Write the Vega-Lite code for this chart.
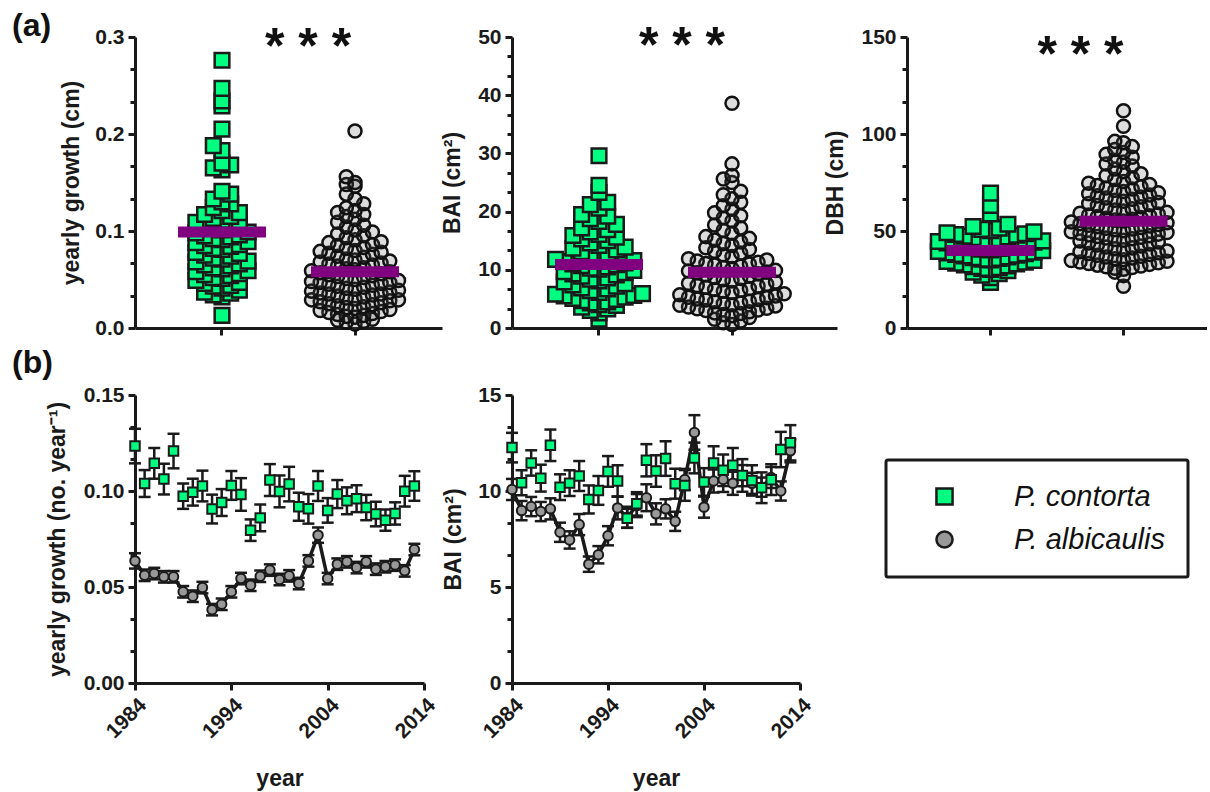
{
  "$schema": "https://vega.github.io/schema/vega-lite/v6.json",
  "background": "white",
  "padding": {"left": 12, "top": 10, "right": 0, "bottom": 5},
  "config": {
    "view": {"stroke": null},
    "font": "Liberation Sans",
    "axis": {"domainColor": "#1a1a1a", "domainWidth": 3, "tickColor": "#1a1a1a", "tickWidth": 3, "tickSize": 7, "labelFont": "Liberation Sans", "labelFontSize": 21, "labelFontWeight": "bold", "labelColor": "#1a1a1a", "labelPadding": 4, "labelOverlap": false, "titleFont": "Liberation Sans", "titleFontSize": 23, "titleFontWeight": "bold", "titleColor": "#1a1a1a", "grid": false},
    "legend": {"strokeWidth": 3}
  },
  "datasets": {
    "growth_contorta": [{"value":0.013},{"value":0.032},{"value":0.034},{"value":0.036},{"value":0.037},{"value":0.039},{"value":0.041},{"value":0.043},{"value":0.044},{"value":0.046},{"value":0.047},{"value":0.049},{"value":0.051},{"value":0.052},{"value":0.054},{"value":0.055},{"value":0.056},{"value":0.058},{"value":0.059},{"value":0.061},{"value":0.062},{"value":0.064},{"value":0.065},{"value":0.066},{"value":0.068},{"value":0.069},{"value":0.071},{"value":0.072},{"value":0.074},{"value":0.075},{"value":0.077},{"value":0.078},{"value":0.081},{"value":0.082},{"value":0.084},{"value":0.085},{"value":0.086},{"value":0.088},{"value":0.089},{"value":0.091},{"value":0.092},{"value":0.094},{"value":0.095},{"value":0.096},{"value":0.098},{"value":0.099},{"value":0.101},{"value":0.103},{"value":0.104},{"value":0.106},{"value":0.107},{"value":0.109},{"value":0.111},{"value":0.113},{"value":0.115},{"value":0.117},{"value":0.119},{"value":0.121},{"value":0.124},{"value":0.128},{"value":0.130},{"value":0.133},{"value":0.138},{"value":0.141},{"value":0.163},{"value":0.165},{"value":0.168},{"value":0.170},{"value":0.183},{"value":0.188},{"value":0.205},{"value":0.229},{"value":0.234},{"value":0.247},{"value":0.276}],
    "growth_albicaulis": [{"value":0.004},{"value":0.006},{"value":0.007},{"value":0.008},{"value":0.009},{"value":0.011},{"value":0.012},{"value":0.013},{"value":0.014},{"value":0.015},{"value":0.016},{"value":0.017},{"value":0.018},{"value":0.019},{"value":0.020},{"value":0.021},{"value":0.022},{"value":0.023},{"value":0.024},{"value":0.025},{"value":0.026},{"value":0.027},{"value":0.028},{"value":0.029},{"value":0.029},{"value":0.030},{"value":0.031},{"value":0.032},{"value":0.033},{"value":0.034},{"value":0.035},{"value":0.035},{"value":0.036},{"value":0.037},{"value":0.038},{"value":0.039},{"value":0.040},{"value":0.041},{"value":0.042},{"value":0.043},{"value":0.044},{"value":0.045},{"value":0.046},{"value":0.047},{"value":0.047},{"value":0.048},{"value":0.049},{"value":0.050},{"value":0.051},{"value":0.052},{"value":0.053},{"value":0.054},{"value":0.055},{"value":0.056},{"value":0.057},{"value":0.058},{"value":0.059},{"value":0.060},{"value":0.061},{"value":0.062},{"value":0.064},{"value":0.065},{"value":0.066},{"value":0.067},{"value":0.068},{"value":0.069},{"value":0.070},{"value":0.071},{"value":0.073},{"value":0.074},{"value":0.076},{"value":0.077},{"value":0.078},{"value":0.079},{"value":0.080},{"value":0.082},{"value":0.083},{"value":0.085},{"value":0.086},{"value":0.088},{"value":0.089},{"value":0.091},{"value":0.093},{"value":0.095},{"value":0.097},{"value":0.099},{"value":0.101},{"value":0.104},{"value":0.106},{"value":0.109},{"value":0.112},{"value":0.115},{"value":0.117},{"value":0.119},{"value":0.121},{"value":0.124},{"value":0.128},{"value":0.133},{"value":0.138},{"value":0.146},{"value":0.148},{"value":0.150},{"value":0.156},{"value":0.203}],
    "bai_contorta": [{"value":1.5},{"value":2.6},{"value":3.0},{"value":3.3},{"value":3.6},{"value":3.9},{"value":4.0},{"value":4.3},{"value":4.5},{"value":4.7},{"value":4.9},{"value":5.1},{"value":5.3},{"value":5.5},{"value":5.6},{"value":5.8},{"value":5.9},{"value":6.1},{"value":6.4},{"value":6.7},{"value":6.9},{"value":7.2},{"value":7.4},{"value":7.6},{"value":7.9},{"value":8.1},{"value":8.4},{"value":8.6},{"value":8.9},{"value":9.1},{"value":9.3},{"value":9.5},{"value":9.7},{"value":9.9},{"value":10.1},{"value":10.3},{"value":10.5},{"value":10.7},{"value":10.9},{"value":11.0},{"value":11.2},{"value":11.4},{"value":11.6},{"value":11.8},{"value":12.2},{"value":12.5},{"value":12.8},{"value":13.1},{"value":13.4},{"value":13.7},{"value":13.9},{"value":14.2},{"value":14.6},{"value":15.0},{"value":15.3},{"value":15.6},{"value":15.9},{"value":16.1},{"value":16.5},{"value":16.9},{"value":17.2},{"value":17.8},{"value":18.3},{"value":18.8},{"value":19.2},{"value":19.5},{"value":20.6},{"value":21.2},{"value":21.6},{"value":23.3},{"value":24.5},{"value":29.6}],
    "bai_albicaulis": [{"value":0.6},{"value":0.9},{"value":1.2},{"value":1.5},{"value":1.8},{"value":2.1},{"value":2.3},{"value":2.5},{"value":2.6},{"value":2.8},{"value":3.0},{"value":3.1},{"value":3.3},{"value":3.4},{"value":3.6},{"value":3.8},{"value":3.9},{"value":4.0},{"value":4.2},{"value":4.3},{"value":4.5},{"value":4.6},{"value":4.8},{"value":4.9},{"value":5.0},{"value":5.2},{"value":5.3},{"value":5.5},{"value":5.7},{"value":5.9},{"value":6.1},{"value":6.3},{"value":6.5},{"value":6.6},{"value":6.8},{"value":7.0},{"value":7.2},{"value":7.3},{"value":7.5},{"value":7.7},{"value":7.9},{"value":8.1},{"value":8.3},{"value":8.5},{"value":8.7},{"value":8.9},{"value":9.1},{"value":9.3},{"value":9.5},{"value":9.6},{"value":9.8},{"value":9.9},{"value":10.2},{"value":10.4},{"value":10.6},{"value":10.8},{"value":11.0},{"value":11.1},{"value":11.3},{"value":11.5},{"value":11.7},{"value":11.9},{"value":12.3},{"value":12.6},{"value":12.9},{"value":13.2},{"value":13.5},{"value":13.8},{"value":14.2},{"value":14.5},{"value":14.8},{"value":15.1},{"value":15.4},{"value":15.7},{"value":16.3},{"value":16.8},{"value":17.2},{"value":17.7},{"value":18.4},{"value":18.9},{"value":19.3},{"value":19.8},{"value":20.4},{"value":21.0},{"value":21.6},{"value":22.2},{"value":22.9},{"value":23.5},{"value":25.0},{"value":25.6},{"value":26.2},{"value":28.2},{"value":38.6}],
    "dbh_contorta": [{"value":23.5},{"value":26.0},{"value":27.2},{"value":28.0},{"value":28.8},{"value":29.5},{"value":30.2},{"value":30.7},{"value":31.1},{"value":31.6},{"value":32.0},{"value":32.5},{"value":33.0},{"value":33.4},{"value":33.9},{"value":34.3},{"value":34.8},{"value":35.1},{"value":35.5},{"value":35.9},{"value":36.3},{"value":36.7},{"value":37.1},{"value":37.5},{"value":37.9},{"value":38.3},{"value":38.7},{"value":39.1},{"value":39.5},{"value":39.9},{"value":40.2},{"value":40.6},{"value":41.0},{"value":41.4},{"value":41.8},{"value":42.2},{"value":42.6},{"value":43.0},{"value":43.4},{"value":43.8},{"value":44.2},{"value":44.6},{"value":44.9},{"value":45.2},{"value":45.6},{"value":46.0},{"value":46.5},{"value":47.0},{"value":47.4},{"value":47.8},{"value":48.2},{"value":48.6},{"value":49.1},{"value":49.6},{"value":50.2},{"value":50.8},{"value":51.5},{"value":52.3},{"value":53.5},{"value":58.8},{"value":63.2},{"value":69.5}],
    "dbh_albicaulis": [{"value":21.5},{"value":27.0},{"value":28.8},{"value":30.3},{"value":30.8},{"value":31.2},{"value":31.6},{"value":32.0},{"value":32.4},{"value":32.8},{"value":33.2},{"value":33.6},{"value":34.0},{"value":34.4},{"value":34.8},{"value":35.2},{"value":35.7},{"value":36.1},{"value":36.6},{"value":37.0},{"value":37.5},{"value":37.9},{"value":38.4},{"value":38.8},{"value":39.3},{"value":39.7},{"value":40.3},{"value":40.8},{"value":41.3},{"value":41.8},{"value":42.3},{"value":42.8},{"value":43.3},{"value":43.8},{"value":44.3},{"value":44.8},{"value":45.2},{"value":45.6},{"value":46.0},{"value":46.4},{"value":46.8},{"value":47.2},{"value":47.6},{"value":48.0},{"value":48.4},{"value":48.8},{"value":49.2},{"value":49.6},{"value":50.2},{"value":50.6},{"value":51.0},{"value":51.4},{"value":51.8},{"value":52.2},{"value":52.6},{"value":53.0},{"value":53.4},{"value":53.8},{"value":54.2},{"value":54.6},{"value":55.2},{"value":55.6},{"value":56.1},{"value":56.5},{"value":57.0},{"value":57.4},{"value":57.9},{"value":58.3},{"value":58.8},{"value":59.2},{"value":59.6},{"value":60.3},{"value":60.8},{"value":61.4},{"value":62.0},{"value":62.5},{"value":63.1},{"value":63.6},{"value":64.2},{"value":64.7},{"value":65.3},{"value":65.8},{"value":66.4},{"value":67.0},{"value":67.5},{"value":68.1},{"value":68.6},{"value":69.2},{"value":69.7},{"value":70.4},{"value":71.0},{"value":71.6},{"value":72.2},{"value":72.8},{"value":73.4},{"value":74.0},{"value":74.6},{"value":75.5},{"value":76.5},{"value":77.5},{"value":78.5},{"value":79.5},{"value":80.5},{"value":82.0},{"value":83.5},{"value":84.5},{"value":85.5},{"value":86.5},{"value":88.0},{"value":89.5},{"value":90.5},{"value":92.0},{"value":93.5},{"value":95.5},{"value":96.2},{"value":104.0},{"value":112.0}],
    "ts_growth": [
      {"year":1984,"sp":"P. albicaulis","mean":0.0636,"se":0.004},{"year":1985,"sp":"P. albicaulis","mean":0.0561,"se":0.003},{"year":1986,"sp":"P. albicaulis","mean":0.0570,"se":0.003},{"year":1987,"sp":"P. albicaulis","mean":0.0553,"se":0.003},{"year":1988,"sp":"P. albicaulis","mean":0.0553,"se":0.003},{"year":1989,"sp":"P. albicaulis","mean":0.0475,"se":0.003},{"year":1990,"sp":"P. albicaulis","mean":0.0452,"se":0.003},{"year":1991,"sp":"P. albicaulis","mean":0.0497,"se":0.003},{"year":1992,"sp":"P. albicaulis","mean":0.0382,"se":0.003},{"year":1993,"sp":"P. albicaulis","mean":0.0410,"se":0.003},{"year":1994,"sp":"P. albicaulis","mean":0.0475,"se":0.003},{"year":1995,"sp":"P. albicaulis","mean":0.0544,"se":0.003},{"year":1996,"sp":"P. albicaulis","mean":0.0509,"se":0.003},{"year":1997,"sp":"P. albicaulis","mean":0.0556,"se":0.003},{"year":1998,"sp":"P. albicaulis","mean":0.0588,"se":0.003},{"year":1999,"sp":"P. albicaulis","mean":0.0539,"se":0.003},{"year":2000,"sp":"P. albicaulis","mean":0.0558,"se":0.003},{"year":2001,"sp":"P. albicaulis","mean":0.0518,"se":0.003},{"year":2002,"sp":"P. albicaulis","mean":0.0636,"se":0.003},{"year":2003,"sp":"P. albicaulis","mean":0.0770,"se":0.004},{"year":2004,"sp":"P. albicaulis","mean":0.0544,"se":0.003},{"year":2005,"sp":"P. albicaulis","mean":0.0619,"se":0.003},{"year":2006,"sp":"P. albicaulis","mean":0.0631,"se":0.003},{"year":2007,"sp":"P. albicaulis","mean":0.0601,"se":0.003},{"year":2008,"sp":"P. albicaulis","mean":0.0631,"se":0.003},{"year":2009,"sp":"P. albicaulis","mean":0.0593,"se":0.003},{"year":2010,"sp":"P. albicaulis","mean":0.0605,"se":0.003},{"year":2011,"sp":"P. albicaulis","mean":0.0614,"se":0.003},{"year":2012,"sp":"P. albicaulis","mean":0.0584,"se":0.003},{"year":2013,"sp":"P. albicaulis","mean":0.0695,"se":0.003},
      {"year":1984,"sp":"P. contorta","mean":0.1234,"se":0.009},{"year":1985,"sp":"P. contorta","mean":0.1039,"se":0.007},{"year":1986,"sp":"P. contorta","mean":0.1144,"se":0.008},{"year":1987,"sp":"P. contorta","mean":0.1062,"se":0.008},{"year":1988,"sp":"P. contorta","mean":0.1208,"se":0.009},{"year":1989,"sp":"P. contorta","mean":0.0973,"se":0.0066},{"year":1990,"sp":"P. contorta","mean":0.0994,"se":0.007},{"year":1991,"sp":"P. contorta","mean":0.1026,"se":0.008},{"year":1992,"sp":"P. contorta","mean":0.0906,"se":0.0075},{"year":1993,"sp":"P. contorta","mean":0.0940,"se":0.007},{"year":1994,"sp":"P. contorta","mean":0.1029,"se":0.0075},{"year":1995,"sp":"P. contorta","mean":0.0982,"se":0.0085},{"year":1996,"sp":"P. contorta","mean":0.0796,"se":0.0056},{"year":1997,"sp":"P. contorta","mean":0.0860,"se":0.007},{"year":1998,"sp":"P. contorta","mean":0.1057,"se":0.0083},{"year":1999,"sp":"P. contorta","mean":0.0998,"se":0.0083},{"year":2000,"sp":"P. contorta","mean":0.1036,"se":0.009},{"year":2001,"sp":"P. contorta","mean":0.0918,"se":0.0073},{"year":2002,"sp":"P. contorta","mean":0.0907,"se":0.0077},{"year":2003,"sp":"P. contorta","mean":0.1026,"se":0.0078},{"year":2004,"sp":"P. contorta","mean":0.0899,"se":0.0064},{"year":2005,"sp":"P. contorta","mean":0.0984,"se":0.0073},{"year":2006,"sp":"P. contorta","mean":0.0949,"se":0.007},{"year":2007,"sp":"P. contorta","mean":0.0960,"se":0.007},{"year":2008,"sp":"P. contorta","mean":0.0914,"se":0.0066},{"year":2009,"sp":"P. contorta","mean":0.0880,"se":0.0064},{"year":2010,"sp":"P. contorta","mean":0.0848,"se":0.0055},{"year":2011,"sp":"P. contorta","mean":0.0883,"se":0.0058},{"year":2012,"sp":"P. contorta","mean":0.0999,"se":0.008},{"year":2013,"sp":"P. contorta","mean":0.1026,"se":0.0077}
    ],
    "ts_bai": [
      {"year":1984,"sp":"P. albicaulis","mean":10.08,"se":0.55},{"year":1985,"sp":"P. albicaulis","mean":8.98,"se":0.5},{"year":1986,"sp":"P. albicaulis","mean":9.19,"se":0.5},{"year":1987,"sp":"P. albicaulis","mean":8.93,"se":0.5},{"year":1988,"sp":"P. albicaulis","mean":9.07,"se":0.55},{"year":1989,"sp":"P. albicaulis","mean":7.85,"se":0.5},{"year":1990,"sp":"P. albicaulis","mean":7.45,"se":0.45},{"year":1991,"sp":"P. albicaulis","mean":8.25,"se":0.55},{"year":1992,"sp":"P. albicaulis","mean":6.19,"se":0.4},{"year":1993,"sp":"P. albicaulis","mean":6.68,"se":0.45},{"year":1994,"sp":"P. albicaulis","mean":7.67,"se":0.5},{"year":1995,"sp":"P. albicaulis","mean":9.12,"se":0.6},{"year":1996,"sp":"P. albicaulis","mean":8.63,"se":0.55},{"year":1997,"sp":"P. albicaulis","mean":9.24,"se":0.6},{"year":1998,"sp":"P. albicaulis","mean":9.65,"se":0.7},{"year":1999,"sp":"P. albicaulis","mean":8.81,"se":0.55},{"year":2000,"sp":"P. albicaulis","mean":9.07,"se":0.5},{"year":2001,"sp":"P. albicaulis","mean":8.42,"se":0.5},{"year":2002,"sp":"P. albicaulis","mean":10.6,"se":0.55},{"year":2003,"sp":"P. albicaulis","mean":13.05,"se":0.9},{"year":2004,"sp":"P. albicaulis","mean":9.16,"se":0.55},{"year":2005,"sp":"P. albicaulis","mean":10.52,"se":0.6},{"year":2006,"sp":"P. albicaulis","mean":10.6,"se":0.65},{"year":2007,"sp":"P. albicaulis","mean":10.4,"se":0.6},{"year":2008,"sp":"P. albicaulis","mean":10.8,"se":0.55},{"year":2009,"sp":"P. albicaulis","mean":10.4,"se":0.55},{"year":2010,"sp":"P. albicaulis","mean":10.2,"se":0.5},{"year":2011,"sp":"P. albicaulis","mean":10.7,"se":0.55},{"year":2012,"sp":"P. albicaulis","mean":10.0,"se":0.5},{"year":2013,"sp":"P. albicaulis","mean":12.09,"se":0.6},
      {"year":1984,"sp":"P. contorta","mean":12.26,"se":0.77},{"year":1985,"sp":"P. contorta","mean":10.43,"se":0.65},{"year":1986,"sp":"P. contorta","mean":11.46,"se":0.66},{"year":1987,"sp":"P. contorta","mean":10.67,"se":0.7},{"year":1988,"sp":"P. contorta","mean":12.38,"se":0.82},{"year":1989,"sp":"P. contorta","mean":10.2,"se":0.67},{"year":1990,"sp":"P. contorta","mean":10.41,"se":0.67},{"year":1991,"sp":"P. contorta","mean":10.78,"se":0.78},{"year":1992,"sp":"P. contorta","mean":9.56,"se":0.73},{"year":1993,"sp":"P. contorta","mean":10.03,"se":0.75},{"year":1994,"sp":"P. contorta","mean":11.02,"se":0.8},{"year":1995,"sp":"P. contorta","mean":10.52,"se":0.82},{"year":1996,"sp":"P. contorta","mean":8.58,"se":0.49},{"year":1997,"sp":"P. contorta","mean":9.33,"se":0.61},{"year":1998,"sp":"P. contorta","mean":11.6,"se":0.84},{"year":1999,"sp":"P. contorta","mean":11.04,"se":0.82},{"year":2000,"sp":"P. contorta","mean":11.69,"se":0.9},{"year":2001,"sp":"P. contorta","mean":10.38,"se":0.78},{"year":2002,"sp":"P. contorta","mean":10.29,"se":0.8},{"year":2003,"sp":"P. contorta","mean":11.72,"se":0.8},{"year":2004,"sp":"P. contorta","mean":10.47,"se":0.72},{"year":2005,"sp":"P. contorta","mean":11.46,"se":0.87},{"year":2006,"sp":"P. contorta","mean":11.08,"se":0.82},{"year":2007,"sp":"P. contorta","mean":11.34,"se":0.9},{"year":2008,"sp":"P. contorta","mean":10.81,"se":0.85},{"year":2009,"sp":"P. contorta","mean":10.55,"se":0.79},{"year":2010,"sp":"P. contorta","mean":10.17,"se":0.8},{"year":2011,"sp":"P. contorta","mean":10.59,"se":0.8},{"year":2012,"sp":"P. contorta","mean":12.16,"se":0.92},{"year":2013,"sp":"P. contorta","mean":12.51,"se":0.92}
    ]
  },
  "columns": 3,
  "spacing": {"row": 67, "column": 70},
  "bounds": "flush",
  "resolve": {"scale": {"fill": "independent", "shape": "independent", "stroke": "independent"}, "legend": {"fill": "independent", "shape": "independent", "stroke": "independent"}},
  "concat": [
    {
      "width": 307, "height": 291,
      "title": {"text": "(a)", "anchor": "start", "frame": "group", "fontSize": 32, "fontWeight": "bold", "font": "Liberation Sans", "color": "#111111", "dx": -123, "dy": 24},
      "resolve": {"axis": {"y": "independent"}},
      "layer": [
        {"data": {"name": "growth_contorta"},
         "transform": [{"bin": {"step": 0.01}, "field": "value", "as": "b"}, {"window": [{"op": "row_number", "as": "r"}], "groupby": ["b"], "sort": [{"field": "value"}]}],
         "mark": {"type": "point", "shape": "square", "filled": true, "fill": "#00FF80", "stroke": "#1a1a1a", "strokeWidth": 2.5, "size": 215, "opacity": 1},
         "encoding": {
           "x": {"datum": "P. contorta", "type": "nominal", "scale": {"type": "band", "domain": ["P. contorta", "P. albicaulis"], "paddingInner": 0.15, "paddingOuter": 0.229}, "axis": {"labels": false, "title": null}},
           "xOffset": {"field": "r", "type": "ordinal", "scale": {"domain": [12,10,8,6,4,2,1,3,5,7,9,11,13]}},
           "y": {"field": "value", "type": "quantitative", "scale": {"domain": [0, 0.3], "nice": false}, "axis": {"title": "yearly growth (cm)", "titlePadding": 11, "labelOverlap": false, "values": [0, 0.1, 0.2, 0.3], "format": ".1f", "tickSize": 7}}
         }},
        {"data": {"name": "growth_albicaulis"},
         "transform": [{"bin": {"step": 0.01}, "field": "value", "as": "b"}, {"window": [{"op": "row_number", "as": "r"}], "groupby": ["b"], "sort": [{"field": "value"}]}],
         "mark": {"type": "point", "shape": "circle", "filled": true, "fill": "#555555", "fillOpacity": 0.2, "stroke": "#111111", "strokeOpacity": 1, "strokeWidth": 2.5, "size": 170},
         "encoding": {
           "x": {"datum": "P. albicaulis", "type": "nominal"},
           "xOffset": {"field": "r", "type": "ordinal"},
           "y": {"field": "value", "type": "quantitative", "axis": {"orient": "left", "title": null, "labels": false, "domain": false, "tickSize": 5, "values": [0.033333,0.066667,0.133333,0.166667,0.233333,0.266667]}}
         }},
        {"data": {"values": [{"sp": "P. contorta", "v": 0.099}, {"sp": "P. albicaulis", "v": 0.058}]},
         "mark": {"type": "tick", "color": "#800080", "size": 88, "thickness": 11, "opacity": 1},
         "encoding": {"x": {"field": "sp", "type": "nominal"}, "y": {"field": "v", "type": "quantitative", "axis": null}}},
        {"data": {"values": [{}]},
         "mark": {"type": "text", "text": "* * *", "font": "Liberation Sans", "fontSize": 50, "fontWeight": "bold", "color": "#111111", "dx": -47, "dy": 11},
         "encoding": {"x": {"datum": "P. albicaulis", "type": "nominal"}, "y": {"datum": 0.3, "type": "quantitative", "axis": null}}}
      ]
    },
    {
      "width": 325, "height": 291,
      "resolve": {"axis": {"y": "independent"}},
      "layer": [
        {"data": {"name": "bai_contorta"},
         "transform": [{"bin": {"step": 2}, "field": "value", "as": "b"}, {"window": [{"op": "row_number", "as": "r"}], "groupby": ["b"], "sort": [{"field": "value"}]}],
         "mark": {"type": "point", "shape": "square", "filled": true, "fill": "#00FF80", "stroke": "#1a1a1a", "strokeWidth": 2.5, "size": 215, "opacity": 1},
         "encoding": {
           "x": {"datum": "P. contorta", "type": "nominal", "scale": {"type": "band", "domain": ["P. contorta", "P. albicaulis"], "paddingInner": 0.15, "paddingOuter": 0.2968, "align": 0.386}, "axis": {"labels": false, "title": null}},
           "xOffset": {"field": "r", "type": "ordinal", "scale": {"domain": [12,10,8,6,4,2,1,3,5,7,9,11,13]}},
           "y": {"field": "value", "type": "quantitative", "scale": {"domain": [0, 50], "nice": false}, "axis": {"title": "BAI (cm²)", "titlePadding": 13, "labelOverlap": false, "values": [0, 10, 20, 30, 40, 50], "format": "d", "tickSize": 7}}
         }},
        {"data": {"name": "bai_albicaulis"},
         "transform": [{"bin": {"step": 2}, "field": "value", "as": "b"}, {"window": [{"op": "row_number", "as": "r"}], "groupby": ["b"], "sort": [{"field": "value"}]}],
         "mark": {"type": "point", "shape": "circle", "filled": true, "fill": "#555555", "fillOpacity": 0.2, "stroke": "#111111", "strokeOpacity": 1, "strokeWidth": 2.5, "size": 170},
         "encoding": {
           "x": {"datum": "P. albicaulis", "type": "nominal"},
           "xOffset": {"field": "r", "type": "ordinal"},
           "y": {"field": "value", "type": "quantitative", "axis": {"orient": "left", "title": null, "labels": false, "domain": false, "tickSize": 5, "values": [3.33333,6.66667,13.33333,16.66667,23.33333,26.66667,33.33333,36.66667,43.33333,46.66667]}}
         }},
        {"data": {"values": [{"sp": "P. contorta", "v": 10.9}, {"sp": "P. albicaulis", "v": 9.6}]},
         "mark": {"type": "tick", "color": "#800080", "size": 88, "thickness": 11, "opacity": 1},
         "encoding": {"x": {"field": "sp", "type": "nominal"}, "y": {"field": "v", "type": "quantitative", "axis": null}}},
        {"data": {"values": [{}]},
         "mark": {"type": "text", "text": "* * *", "font": "Liberation Sans", "fontSize": 50, "fontWeight": "bold", "color": "#111111", "dx": -50, "dy": 10},
         "encoding": {"x": {"datum": "P. albicaulis", "type": "nominal"}, "y": {"datum": 50, "type": "quantitative", "axis": null}}}
      ]
    },
    {
      "width": 300, "height": 291,
      "resolve": {"axis": {"y": "independent"}},
      "layer": [
        {"data": {"name": "dbh_contorta"},
         "transform": [{"bin": {"step": 5}, "field": "value", "as": "b"}, {"window": [{"op": "row_number", "as": "r"}], "groupby": ["b"], "sort": [{"field": "value"}]}],
         "mark": {"type": "point", "shape": "square", "filled": true, "fill": "#00FF80", "stroke": "#1a1a1a", "strokeWidth": 2.5, "size": 215, "opacity": 1},
         "encoding": {
           "x": {"datum": "P. contorta", "type": "nominal", "scale": {"type": "band", "domain": ["P. contorta", "P. albicaulis"], "paddingInner": 0.15, "paddingOuter": 0.2028}, "axis": {"labels": false, "title": null}},
           "xOffset": {"field": "r", "type": "ordinal", "scale": {"domain": [12,10,8,6,4,2,1,3,5,7,9,11,13]}},
           "y": {"field": "value", "type": "quantitative", "scale": {"domain": [0, 150], "nice": false}, "axis": {"title": "DBH (cm)", "titlePadding": 13, "labelOverlap": false, "values": [0, 50, 100, 150], "format": "d", "tickSize": 7}}
         }},
        {"data": {"name": "dbh_albicaulis"},
         "transform": [{"bin": {"step": 5}, "field": "value", "as": "b"}, {"window": [{"op": "row_number", "as": "r"}], "groupby": ["b"], "sort": [{"field": "value"}]}],
         "mark": {"type": "point", "shape": "circle", "filled": true, "fill": "#555555", "fillOpacity": 0.2, "stroke": "#111111", "strokeOpacity": 1, "strokeWidth": 2.5, "size": 170},
         "encoding": {
           "x": {"datum": "P. albicaulis", "type": "nominal"},
           "xOffset": {"field": "r", "type": "ordinal"},
           "y": {"field": "value", "type": "quantitative", "axis": {"orient": "left", "title": null, "labels": false, "domain": false, "tickSize": 5, "values": [16.66667,33.33333,66.66667,83.33333,116.66667,133.33333]}}
         }},
        {"data": {"values": [{"sp": "P. contorta", "v": 40}, {"sp": "P. albicaulis", "v": 55}]},
         "mark": {"type": "tick", "color": "#800080", "size": 88, "thickness": 11, "opacity": 1},
         "encoding": {"x": {"field": "sp", "type": "nominal"}, "y": {"field": "v", "type": "quantitative", "axis": null}}},
        {"data": {"values": [{}]},
         "mark": {"type": "text", "text": "* * *", "font": "Liberation Sans", "fontSize": 50, "fontWeight": "bold", "color": "#111111", "dx": -43, "dy": 19},
         "encoding": {"x": {"datum": "P. albicaulis", "type": "nominal"}, "y": {"datum": 150, "type": "quantitative", "axis": null}}}
      ]
    },
    {
      "width": 289, "height": 288,
      "title": {"text": "(b)", "anchor": "start", "frame": "group", "fontSize": 32, "fontWeight": "bold", "font": "Liberation Sans", "color": "#111111", "dx": -123, "dy": 0},
      "resolve": {"axis": {"y": "independent"}},
      "layer": [
        {"data": {"name": "ts_growth"},
         "transform": [{"filter": "datum.sp == 'P. albicaulis'"}],
         "mark": {"type": "line", "color": "#1a1a1a", "strokeWidth": 3.5},
         "encoding": {
           "x": {"field": "year", "type": "quantitative", "title": "year", "scale": {"domain": [1984, 2014], "nice": false}, "axis": {"values": [1984, 1994, 2004, 2014], "format": "d", "labelAngle": -45, "labelFlush": false, "labelOverlap": false, "titlePadding": 26}},
           "y": {"field": "mean", "type": "quantitative", "title": "yearly growth (no. year⁻¹)", "scale": {"domain": [0, 0.15], "nice": false}, "axis": {"titlePadding": 14, "labelOverlap": false, "values": [0, 0.05, 0.1, 0.15], "format": ".2f", "tickSize": 7}}
         }},
        {"data": {"name": "ts_growth"},
         "mark": {"type": "errorbar", "color": "#1a1a1a", "opacity": 1, "thickness": 2.5, "ticks": {"size": 12, "thickness": 2.5, "opacity": 1}, "rule": {"opacity": 1}},
         "encoding": {"x": {"field": "year", "type": "quantitative", "title": "year"}, "y": {"field": "mean", "type": "quantitative", "axis": {"orient": "left", "title": null, "labels": false, "domain": false, "tickSize": 5, "values": [0.016667,0.033333,0.066667,0.083333,0.116667,0.133333]}}, "yError": {"field": "se"}}},
        {"data": {"name": "ts_growth"},
         "mark": {"type": "point", "filled": true, "strokeWidth": 2, "size": 90, "opacity": 1},
         "encoding": {
           "x": {"field": "year", "type": "quantitative", "title": "year"},
           "y": {"field": "mean", "type": "quantitative", "axis": null},
           "shape": {"field": "sp", "type": "nominal", "scale": {"domain": ["P. contorta", "P. albicaulis"], "range": ["square", "circle"]}, "legend": null},
           "fill": {"field": "sp", "type": "nominal", "scale": {"domain": ["P. contorta", "P. albicaulis"], "range": ["#00FF80", "#999999"]}, "legend": null},
           "stroke": {"field": "sp", "type": "nominal", "scale": {"domain": ["P. contorta", "P. albicaulis"], "range": ["#1a1a1a", "#1a1a1a"]}, "legend": null}
         }}
      ]
    },
    {
      "width": 288, "height": 288,
      "resolve": {"axis": {"y": "independent"}},
      "layer": [
        {"data": {"name": "ts_bai"},
         "transform": [{"filter": "datum.sp == 'P. albicaulis'"}],
         "mark": {"type": "line", "color": "#1a1a1a", "strokeWidth": 3.5},
         "encoding": {
           "x": {"field": "year", "type": "quantitative", "title": "year", "scale": {"domain": [1984, 2014], "nice": false}, "axis": {"values": [1984, 1994, 2004, 2014], "format": "d", "labelAngle": -45, "labelFlush": false, "labelOverlap": false, "titlePadding": 26}},
           "y": {"field": "mean", "type": "quantitative", "title": "BAI (cm²)", "scale": {"domain": [0, 15], "nice": false}, "axis": {"titlePadding": 12, "labelOverlap": false, "values": [0, 5, 10, 15], "format": "d", "tickSize": 7}}
         }},
        {"data": {"name": "ts_bai"},
         "mark": {"type": "errorbar", "color": "#1a1a1a", "opacity": 1, "thickness": 2.5, "ticks": {"size": 12, "thickness": 2.5, "opacity": 1}, "rule": {"opacity": 1}},
         "encoding": {"x": {"field": "year", "type": "quantitative", "title": "year"}, "y": {"field": "mean", "type": "quantitative", "axis": {"orient": "left", "title": null, "labels": false, "domain": false, "tickSize": 5, "values": [1.666667,3.333333,6.666667,8.333333,11.666667,13.333333]}}, "yError": {"field": "se"}}},
        {"data": {"name": "ts_bai"},
         "mark": {"type": "point", "filled": true, "strokeWidth": 2, "size": 90, "opacity": 1},
         "encoding": {
           "x": {"field": "year", "type": "quantitative", "title": "year"},
           "y": {"field": "mean", "type": "quantitative", "axis": null},
           "shape": {"field": "sp", "type": "nominal", "scale": {"domain": ["P. contorta", "P. albicaulis"], "range": ["square", "circle"]}, "legend": {"orient": "none", "legendX": 374, "legendY": 65, "title": null, "labelFont": "Liberation Sans", "labelFontSize": 29, "labelFontStyle": "italic", "labelColor": "#111111", "labelOffset": 55, "labelLimit": 400, "symbolOffset": 22, "symbolSize": 260, "symbolStrokeWidth": 2.5, "padding": 22, "rowPadding": 13, "strokeColor": "#1a1a1a", "cornerRadius": 2, "fillColor": "white"}},
           "fill": {"field": "sp", "type": "nominal", "scale": {"domain": ["P. contorta", "P. albicaulis"], "range": ["#00FF80", "#999999"]}, "legend": {"orient": "none", "legendX": 374, "legendY": 65, "title": null, "labelFont": "Liberation Sans", "labelFontSize": 29, "labelFontStyle": "italic", "labelColor": "#111111", "labelOffset": 55, "labelLimit": 400, "symbolOffset": 22, "symbolSize": 260, "symbolStrokeWidth": 2.5, "padding": 22, "rowPadding": 13, "strokeColor": "#1a1a1a", "cornerRadius": 2, "fillColor": "white"}},
           "stroke": {"field": "sp", "type": "nominal", "scale": {"domain": ["P. contorta", "P. albicaulis"], "range": ["#1a1a1a", "#1a1a1a"]}, "legend": {"orient": "none", "legendX": 374, "legendY": 65, "title": null, "labelFont": "Liberation Sans", "labelFontSize": 29, "labelFontStyle": "italic", "labelColor": "#111111", "labelOffset": 55, "labelLimit": 400, "symbolOffset": 22, "symbolSize": 260, "symbolStrokeWidth": 2.5, "padding": 22, "rowPadding": 13, "strokeColor": "#1a1a1a", "cornerRadius": 2, "fillColor": "white"}}
         }}
      ]
    }
  ]
}
